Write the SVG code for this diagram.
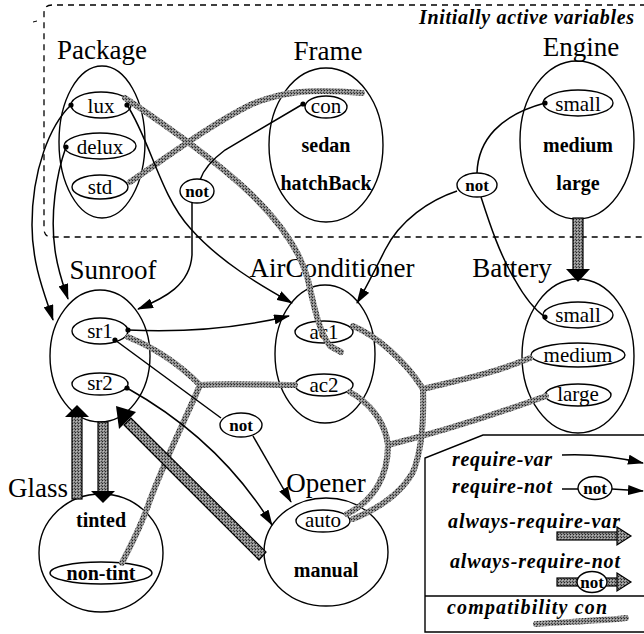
<svg xmlns="http://www.w3.org/2000/svg" width="644" height="634" viewBox="0 0 644 634">
<defs>
<pattern id="ht" width="3" height="3" patternUnits="userSpaceOnUse">
<rect width="3" height="3" fill="#8c8c8c"/><rect width="1" height="1" fill="#222"/><rect x="2" y="2" width="1" height="1" fill="#444"/><rect x="1" y="1" width="1" height="1" fill="#bbb"/>
</pattern>
<marker id="ah" markerWidth="16" markerHeight="10" refX="15" refY="5" orient="auto" markerUnits="userSpaceOnUse"><path d="M0,0 L16,5 L0,10 z" fill="#000"/></marker>
<marker id="dot" markerWidth="6" markerHeight="6" refX="3" refY="3" markerUnits="userSpaceOnUse"><circle cx="3" cy="3" r="2.6" fill="#000"/></marker>
</defs>
<style>
.ov{fill:none;stroke:#000;stroke-width:1.4}
.vo{fill:#fff;stroke:#000;stroke-width:1.4}
.t{font-family:"Liberation Serif","Times New Roman",serif;fill:#000;text-anchor:middle}
.title{font-size:27px}
.val{font-size:21px}
.b{font-size:20px;font-weight:bold}
.nt{font-size:17px;font-weight:bold}
.ln{fill:none;stroke:#000;stroke-width:1.5}
.arr{marker-end:url(#ah)}
.d{marker-start:url(#dot)}
.con{fill:none;stroke:url(#ht);stroke-width:6;stroke-linecap:round;stroke-linejoin:round}
.bar{fill:url(#ht);stroke:#000;stroke-width:1.2}
.lg{font-family:"Liberation Serif","Times New Roman",serif;font-style:italic;font-weight:bold;font-size:20px;fill:#000}
</style>
<rect width="644" height="634" fill="#fff"/>

<g id="active-region">
<path d="M646,5 H52 Q44,5 44,13 V229 Q44,237 52,237 H646" fill="none" stroke="#000" stroke-width="1.3" stroke-dasharray="6,5"/>
<line x1="33" y1="22" x2="37" y2="21" stroke="#000" stroke-width="1"/>
<text class="lg" x="634" y="24" font-size="19" text-anchor="end" textLength="215">Initially active variables</text>
</g>

<g id="package">
<text class="t title" x="102" y="59">Package</text>
<ellipse class="ov" cx="102" cy="142" rx="43" ry="76"/>
<ellipse class="vo" cx="101" cy="105" rx="30" ry="13"/><text class="t val" x="101" y="113">lux</text>
<ellipse class="vo" cx="100" cy="146" rx="36" ry="13"/><text class="t val" x="100" y="154">delux</text>
<ellipse class="vo" cx="100" cy="187" rx="28" ry="12"/><text class="t val" x="100" y="194">std</text>
</g>

<g id="frame">
<text class="t title" x="328" y="60">Frame</text>
<ellipse class="ov" cx="326" cy="145" rx="57" ry="77"/>
<ellipse class="vo" cx="326" cy="107" rx="21" ry="11"/><text class="t val" x="326" y="113">con</text>
<text class="t b" x="326" y="152">sedan</text>
<text class="t b" x="326" y="190">hatchBack</text>
</g>

<g id="engine">
<text class="t title" x="581" y="56">Engine</text>
<ellipse class="ov" cx="577" cy="140" rx="57" ry="79"/>
<ellipse class="vo" cx="578" cy="103" rx="35" ry="13"/><text class="t val" x="578" y="111">small</text>
<text class="t b" x="578" y="152">medium</text>
<text class="t b" x="578" y="190">large</text>
</g>

<g id="sunroof">
<text class="t title" x="113" y="279">Sunroof</text>
<ellipse class="ov" cx="100" cy="356" rx="50" ry="66"/>
<ellipse class="vo" cx="100" cy="331" rx="28" ry="13"/><text class="t val" x="100" y="338">sr1</text>
<ellipse class="vo" cx="100" cy="384" rx="28" ry="11"/><text class="t val" x="100" y="390">sr2</text>
</g>

<g id="airconditioner">
<text class="t title" x="332" y="277">AirConditioner</text>
<ellipse class="ov" cx="325" cy="354" rx="50" ry="69"/>
<ellipse class="vo" cx="324" cy="332" rx="29" ry="11"/><text class="t val" x="324" y="339">ac1</text>
<ellipse class="vo" cx="324" cy="385" rx="29" ry="11"/><text class="t val" x="324" y="392">ac2</text>
</g>

<g id="battery">
<text class="t title" x="512" y="277">Battery</text>
<ellipse class="ov" cx="578" cy="356" rx="56" ry="77"/>
<ellipse class="vo" cx="578" cy="315" rx="35" ry="13"/><text class="t val" x="578" y="322">small</text>
<ellipse class="vo" cx="578" cy="355" rx="47" ry="12"/><text class="t val" x="578" y="362">medium</text>
<ellipse class="vo" cx="578" cy="395" rx="33" ry="11"/><text class="t val" x="578" y="401">large</text>
</g>

<g id="glass">
<text class="t title" x="38" y="497">Glass</text>
<ellipse class="ov" cx="101" cy="553" rx="62" ry="59"/>
<text class="t b" x="101" y="527">tinted</text>
<ellipse class="vo" cx="101" cy="573" rx="51" ry="11"/><text class="t b" x="101" y="580">non-tint</text>
</g>

<g id="opener">
<text class="t title" x="326" y="492">Opener</text>
<ellipse class="ov" cx="326" cy="552" rx="62" ry="54"/>
<ellipse class="vo" cx="323" cy="521" rx="27" ry="11"/><text class="t val" x="323" y="527">auto</text>
<text class="t b" x="326" y="577">manual</text>
</g>

<g id="connectors">
<!-- compatibility -->
<path class="con" d="M125,98 C170,128 215,160 250,193 C280,222 300,250 308,280 C314,305 318,330 330,346 L341,352"/>
<path class="con" d="M130,182 C170,155 210,125 250,105 C280,92 310,88 362,93"/>
<path class="con" d="M128,337 C160,350 185,370 200,385"/>
<path class="con" d="M200,385 C230,383 265,385 295,385"/>
<path class="con" d="M200,385 C185,420 165,460 150,500 C140,530 128,550 122,563"/>
<path class="con" d="M353,326 C375,335 405,360 423,389"/>
<path class="con" d="M423,389 C450,382 490,375 530,358"/>
<path class="con" d="M423,389 C424,420 422,450 413,472 C400,495 375,510 353,519"/>
<path class="con" d="M350,392 C368,402 385,420 388,445"/>
<path class="con" d="M388,445 C388,475 375,500 347,514"/>
<path class="con" d="M388,445 C420,437 480,420 546,396"/>

<!-- always-require -->
<g id="engine-battery">
<rect class="bar" x="573" y="218" width="10" height="52"/>
<path d="M566,269 L590,269 L578,282 z"/>
</g>
<g id="glass-sunroof">
<rect class="bar" x="72" y="416" width="10" height="83"/>
<path d="M65,417 L89,417 L77,405 z"/>
</g>
<g id="sunroof-glass">
<rect class="bar" x="98" y="422" width="10" height="70"/>
<path d="M91,491 L115,491 L103,503 z"/>
</g>
<g id="opener-sunroof">
<path class="bar" d="M266,552 L259,560 L124,425 L131,418 z"/>
<path d="M136,412 L119,429 L116,406 z"/>
</g>

<!-- require -->
<path class="ln d arr" d="M71,105 C50,125 32,170 32,225 C32,265 45,295 53,320"/>
<path class="ln d arr" d="M66,147 C56,175 50,215 55,250 C58,272 64,287 68,299"/>
<path class="ln d arr" d="M127,105 C150,140 160,195 190,228 C220,262 260,285 292,303"/>
<path class="ln d" d="M303,104 L225,150 Q205,165 200,180"/>
<path class="ln arr" d="M192,203 L192,255 C190,285 165,298 138,309"/>
<path class="ln d arr" d="M128,330 C170,332 230,330 289,316"/>
<path class="ln d" d="M545,103 C500,115 478,140 477,173"/>
<path class="ln arr" d="M457,191 C430,200 400,220 385,250 C375,270 365,290 357,303"/>
<path class="ln d" d="M545,317 C535,310 525,298 515,280 C500,255 490,225 481,197"/>
<path class="ln d" d="M115,340 L221,418"/>
<path class="ln arr" d="M253,436 L291,502"/>
<path class="ln d arr" d="M127,388 Q220,440 272,525"/>
</g>

<g id="not-con">
<ellipse class="vo" cx="197" cy="191" rx="17" ry="12" stroke-width="1.7"/><text class="t nt" x="197" y="197">not</text>
</g>
<g id="not-engine">
<ellipse class="vo" cx="477" cy="185" rx="20" ry="12" stroke-width="1.7"/><text class="t nt" x="477" y="191">not</text>
</g>
<g id="not-sr1">
<ellipse class="vo" cx="241" cy="425" rx="21" ry="12" stroke-width="1.7"/><text class="t nt" x="241" y="431">not</text>
</g>

<g id="legend">
<path d="M646,435 H483 L425,458 V632 H646" fill="#fff" stroke="#000" stroke-width="1.4"/>
<line x1="425" y1="596" x2="646" y2="596" stroke="#000" stroke-width="1.4"/>
<text class="lg" x="452" y="466" textLength="100">require-var</text>
<path class="ln arr" d="M562,455 Q600,453 643,463"/>
<text class="lg" x="452" y="493" textLength="100">require-not</text>
<line class="ln" x1="562" y1="489" x2="578" y2="489"/>
<path class="ln arr" d="M612,489 L643,491"/>
<ellipse class="vo" cx="595" cy="488" rx="17" ry="11.5" stroke-width="1.7"/><text class="t nt" x="595" y="494" font-size="16">not</text>
<text class="lg" x="448" y="528" textLength="172">always-require-var</text>
<rect class="bar" x="557" y="532" width="62" height="8"/>
<path d="M617,527 L631,536 L617,545 z" fill="url(#ht)" stroke="#000" stroke-width="1.2"/>
<text class="lg" x="450" y="568" textLength="170">always-require-not</text>
<rect class="bar" x="557" y="578" width="62" height="8"/>
<path d="M617,573 L631,582 L617,591 z" fill="url(#ht)" stroke="#000" stroke-width="1.2"/>
<ellipse class="vo" cx="592" cy="582" rx="15" ry="10.5" stroke-width="1.7"/><text class="t nt" x="592" y="588" font-size="16">not</text>
<text class="lg" x="447" y="614" textLength="160">compatibility con</text>
<path class="con" d="M536,624 C560,622 600,621 626,618" stroke-width="5"/>
</g>
</svg>
